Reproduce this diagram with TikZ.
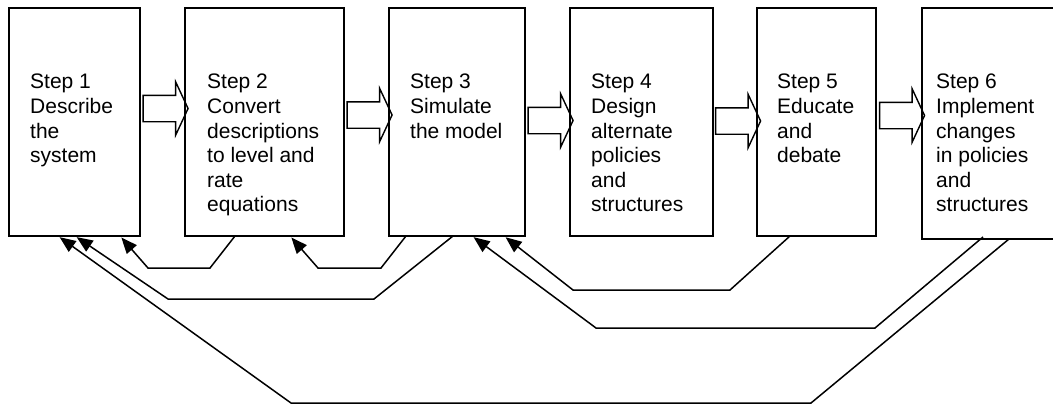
\documentclass[tikz,border=0pt]{standalone}
\usepackage{fontspec}
\setmainfont{Liberation Sans}
\usetikzlibrary{arrows.meta,shapes.arrows}
\tikzset{
  stepbox/.style={draw,line width=1.5pt,inner sep=0pt,outer sep=0pt,minimum height=228pt},
  steptext/.style={anchor=north west,inner sep=0pt,align=left,font=\fontsize{21}{24.6}\selectfont},
  hollowarrow/.style={draw,line width=1.4pt,single arrow,inner xsep=0pt,inner ysep=12.5pt,outer sep=0pt,
    minimum height=45pt,single arrow head extend=13.5pt,single arrow tip angle=130},
  back/.style={line width=1.5pt,-{Triangle[length=16pt,width=13pt]},shorten >=2pt}
}
\begin{document}
\begin{tikzpicture}[x=1pt,y=-1pt]
            \useasboundingbox (0,0) rectangle (1053,405);
            \node[stepbox,minimum width=131pt] (s1) at (74.5,122) {};\node[stepbox,minimum width=159pt] (s2) at (264.5,122) {};\node[stepbox,minimum width=136pt] (s3) at (457,122) {};\node[stepbox,minimum width=143pt] (s4) at (641.5,122) {};\node[stepbox,minimum width=119pt] (s5) at (816.5,122) {};\node[stepbox,minimum width=143pt,minimum height=231pt] (s6) at (993.5,123.5) {};

            \node[steptext] (t1) at (30,74) {Step 1\\Describe\\the\\system};
            \node[steptext] (t2) at (207,74) {Step 2\\Convert\\descriptions\\to level and\\rate\\equations};
            \node[steptext] (t3) at (410,74) {Step 3\\Simulate\\the model};
            \node[steptext] (t4) at (591,74) {Step 4\\Design\\alternate\\policies\\and\\structures};
            \node[steptext] (t5) at (777,74) {Step 5\\Educate\\and\\debate};
            \node[steptext] (t6) at (936,74) {Step 6\\Implement\\changes\\in policies\\and\\structures};

            \foreach \n/\x/\y in {12/162.5/108.5, 23/366.5/115, 34/547.5/120.5, 45/735/121, 56/899/115.5} {
                \node[hollowarrow] (a\n) at (\x,\y) {};
            }

            \draw[back] (s2.south -| 235,0) -- (210,268) -- (148,268) -- (s1.south -| 120,0);
            \draw[back] (s3.south -| 406,0) -- (381,268) -- (318,268) -- (s2.south -| 290,0);
            \draw[back] (s3.south -| 453,0) -- (374,299) -- (168,299) -- (s1.south -| 75,0);
            \draw[back] (s5.south -| 790,0) -- (730,290) -- (573,290) -- (s3.south -| 504,0);
            \draw[back] (983,237) -- (875,328) -- (596,328) -- (s3.south -| 472,0);
            \draw[back] (s6.south -| 1009,0) -- (811,403) -- (291,403) -- (s1.south -| 58,0);
        \end{tikzpicture}
\end{document}
